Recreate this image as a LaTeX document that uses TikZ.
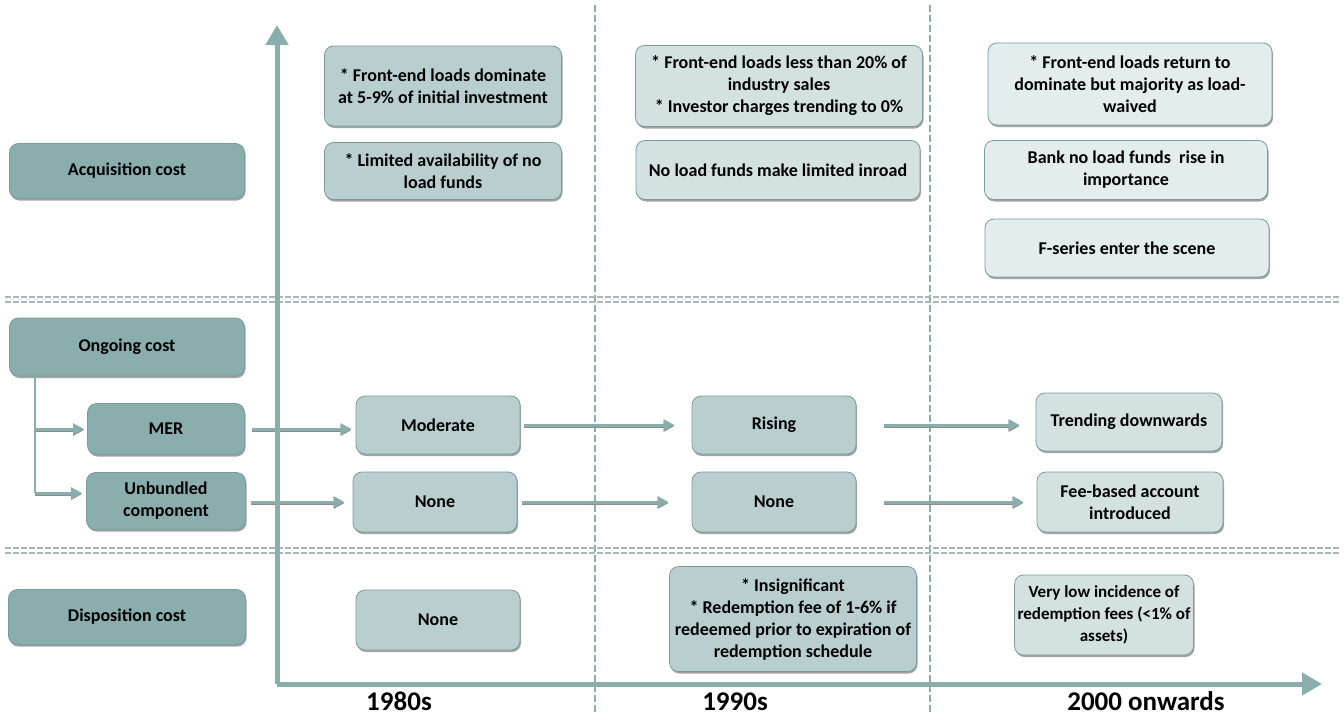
\documentclass[tikz,border=0pt]{standalone}
\usepackage{fontspec}
\setmainfont{Carlito}
\usetikzlibrary{arrows.meta,shadows}
\definecolor{axisc}{HTML}{8AADAD}
\definecolor{hdrc}{HTML}{8AADAD}
\definecolor{edgec}{HTML}{7A9C9C}
\definecolor{midc}{HTML}{B9CFCF}
\definecolor{litec}{HTML}{D3E1E1}
\definecolor{palec}{HTML}{E3EDED}
\definecolor{sepc}{HTML}{A8B8B8}
\begin{document}
\begin{tikzpicture}[x=1pt,y=-1pt,
  box/.style={draw=edgec, line width=0.8pt, rounded corners=9pt, align=center,
    font=\bfseries\fontsize{18}{22}\selectfont, inner sep=3pt,
    drop shadow={shadow xshift=1pt, shadow yshift=-2pt, fill=black!45, opacity=0.8}},
  hdr/.style={box, fill=hdrc},
  mid/.style={box, fill=midc},
  lite/.style={box, fill=litec},
  pale/.style={box, fill=palec},
  flow/.style={draw=axisc, line width=3pt, -{Triangle[length=11pt,width=11pt]},
    preaction={draw=black!45, line width=3pt, transform canvas={yshift=-1pt}}},
  trunk/.style={draw=axisc, line width=2.5pt},
  axis/.style={draw=axisc, line width=5pt, -{Triangle[length=20pt,width=22pt]}},
  guide/.style={draw=axisc, line width=1.5pt, dash pattern=on 7pt off 3pt},
  sep/.style={draw=sepc, line width=1.6pt, dash pattern=on 6pt off 2pt},
  year/.style={font=\bfseries\fontsize{27}{30}\selectfont, anchor=base, inner sep=0pt}
]
\useasboundingbox (0,0) rectangle (1344,715);

% period guides and row separators
\draw[guide] (595,5) -- (595,715);
\draw[guide] (930,5) -- (930,715);
\foreach \y in {297,302,548,553}
  \draw[sep] (5,\y) -- (1340,\y);

% row headers
\node[hdr, minimum width=235pt, minimum height=55pt] (acq) at (127,171) {Acquisition cost};
\node[hdr, minimum width=235pt, minimum height=58pt] (ong) at (127,347) {Ongoing cost};
\node[hdr, minimum width=157pt, minimum height=51pt] (mer) at (166,429) {MER};
\node[hdr, minimum width=159pt, minimum height=57pt] (unb) at (166,501) {Unbundled\\component};
\node[hdr, minimum width=237pt, minimum height=55pt] (disp) at (127,617) {Disposition cost};

% acquisition cost
\node[mid, minimum width=237pt, minimum height=80pt] (a80a) at (443,86) {* Front-end loads dominate\\at 5-9\% of initial investment};
\node[mid, minimum width=237pt, minimum height=57pt] (a80b) at (443,171) {* Limited availability of no\\load funds};
\node[lite, minimum width=287pt, minimum height=81pt] (a90a) at (779,86) {* Front-end loads less than 20\% of\\industry sales\\* Investor charges trending to 0\%};
\node[lite, minimum width=284pt, minimum height=59pt] (a90b) at (778,170) {No load funds make limited inroad};
\node[pale, minimum width=284pt, minimum height=82pt] (a00a) at (1130,84) {* Front-end loads return to\\dominate but majority as load-\\waived};
\node[pale, minimum width=283pt, minimum height=59pt] (a00b) at (1126,170) {Bank no load funds\ \ rise in\\importance};
\node[pale, minimum width=284pt, minimum height=58pt] (a00c) at (1127,248) {F-series enter the scene};

% ongoing cost
\node[mid, minimum width=164pt, minimum height=58pt] (mod) at (438,425) {Moderate};
\node[mid, minimum width=164pt, minimum height=58pt] (ris) at (774,425) {Rising};
\node[lite, minimum width=186pt, minimum height=58pt] (trd) at (1129,422) {Trending downwards};
\node[mid, minimum width=164pt, minimum height=60pt] (n80) at (435,502) {None};
\node[mid, minimum width=164pt, minimum height=60pt] (n90) at (774,502) {None};
\node[lite, minimum width=186pt, minimum height=60pt] (fee) at (1130,502) {Fee-based account\\introduced};

% disposition cost
\node[mid, minimum width=164pt, minimum height=60pt] (d80) at (438,620) {None};
\node[mid, minimum width=247pt, minimum height=105pt] (d90) at (793,619) {* Insignificant\\* Redemption fee of 1-6\% if\\redeemed prior to expiration of\\redemption schedule};
\node[lite, minimum width=179pt, minimum height=80pt, font=\bfseries\fontsize{17}{22}\selectfont] (d00) at (1104,615) {Very low incidence of\\redemption fees (<1\% of\\assets)};

% ongoing cost branches
\coordinate (tm) at (35,429);
\coordinate (tu) at (35,493);
\draw[trunk] (ong.south -| tm) -- (tu);
\draw[flow, shorten >=3pt] (tm) -- (tm -| mer.west);
\draw[flow, shorten >=4pt] (tu) -- (tu -| unb.west);

% evolution arrows
\draw[flow, shorten <=7pt, shorten >=4pt] (mer.east) -- (mer.east -| mod.west);
\draw[flow, shorten <=4pt, shorten >=17pt] (mod.east) -- (mod.east -| ris.west);
\draw[flow, shorten <=28pt, shorten >=16pt] (ris.east) -- (ris.east -| trd.west);
\draw[flow, shorten <=5pt, shorten >=8pt] (unb.east |- n80.west) -- (n80.west);
\draw[flow, shorten <=5pt, shorten >=23pt] (n80.east) -- (n90.west);
\draw[flow, shorten <=28pt, shorten >=13pt] (n90.east) -- (fee.west);

% time axes
\coordinate (o) at (277,684);
\coordinate (ytip) at (277,25);
\coordinate (xtip) at (1322,684);
\draw[axis] (o) -- (ytip);
\draw[axis] (o) -- (xtip);

% period labels
\node[year] (y80) at (399,710) {1980s};
\node[year] (y90) at (735,710) {1990s};
\node[year] (y00) at (1146,710) {2000 onwards};
\end{tikzpicture}
\end{document}
